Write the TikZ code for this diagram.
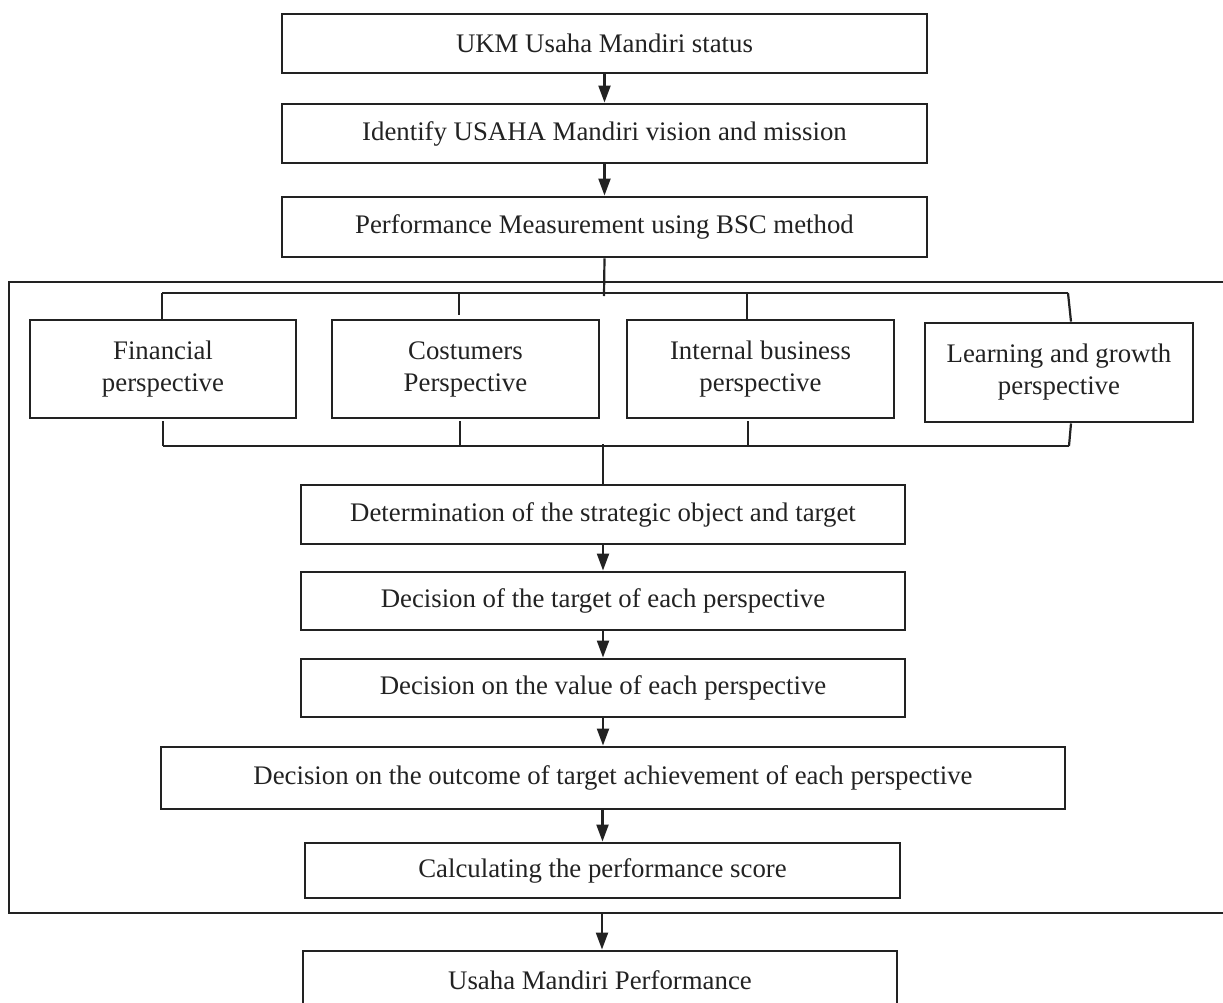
\documentclass[tikz,border=0pt]{standalone}
\usepackage{fontspec}
\setmainfont{Liberation Serif}
\usetikzlibrary{arrows.meta}
\definecolor{ink}{HTML}{222222}
\begin{document}
\begin{tikzpicture}[x=0.5pt,y=-0.5pt,
  box/.style={draw=ink,line width=1.45pt,inner sep=0pt,align=center,text=ink,
    font=\fontsize{13.4}{16}\selectfont},
  lnk/.style={draw=ink,line width=1.1pt},
  arr/.style={draw=ink,line width=1.1pt,-{Triangle[length=8.5pt,width=6pt]}},
  frame/.style={draw=ink,line width=1.1pt}]
\useasboundingbox (0,0) rectangle (1223,1003);
% outer frame (right side lies beyond the picture edge)
\draw[frame] (1240,282) -- (9,282) -- (9,913) -- (1240,913);
% top chain
\node[box,minimum width=322.5pt,minimum height=29.5pt] (b1) at (604.5,43.5) {UKM Usaha Mandiri status};
\node[box,minimum width=322.5pt,minimum height=29.5pt] (b2) at (604.5,133.5) {Identify USAHA Mandiri vision and mission};
\node[box,minimum width=322.5pt,minimum height=30pt] (b3) at (604.5,227) {Performance Measurement using BSC method};
\draw[arr] (b1.south) -- (b2.north);
\draw[arr] (b2.south) -- (b3.north);
% perspectives
\node[box,minimum width=133pt,minimum height=49pt] (p1) at (163,369) {Financial\\perspective};
\node[box,minimum width=133.5pt,minimum height=49pt] (p2) at (465.5,369) {Costumers\\Perspective};
\node[box,minimum width=133.5pt,minimum height=49pt] (p3) at (760.5,369) {Internal business\\perspective};
\node[box,minimum width=134pt,minimum height=49.5pt] (p4) at (1059,372.5) {Learning and growth\\perspective};
% top bracket
\coordinate (tc) at (604,296);
\coordinate (t1) at (162,293);
\coordinate (t2) at (459,293);
\coordinate (t3) at (747,293);
\coordinate (t4) at (1068,293);
\draw[lnk] (b3.south) -- (tc);
\draw[lnk] (t1) -- (t4);
\draw[lnk] (t1) -- (t1 |- p1.north);
\draw[lnk] (t2) -- ([yshift=2pt]t2 |- p2.north);
\draw[lnk] (t3) -- (t3 |- p3.north);
\draw[lnk] (t4) -- ([xshift=1.5pt]t4 |- p4.north);
% bottom bracket
\coordinate (u1) at (163,446);
\coordinate (u2) at (460,446);
\coordinate (u3) at (748,446);
\coordinate (u4) at (1069,446);
\coordinate (uc) at (603,444);
\draw[lnk] (u1) -- (u4);
\draw[lnk] (u1) -- ([yshift=-1pt]u1 |- p1.south);
\draw[lnk] (u2) -- ([yshift=-1pt]u2 |- p2.south);
\draw[lnk] (u3) -- ([yshift=-1pt]u3 |- p3.south);
\draw[lnk] (u4) -- ([xshift=1pt]u4 |- p4.south);
% lower chain
\node[box,minimum width=302pt,minimum height=29.5pt] (d1) at (603,514.5) {Determination of the strategic object and target};
\node[box,minimum width=302pt,minimum height=29pt] (d2) at (603,601) {Decision of the target of each perspective};
\node[box,minimum width=302pt,minimum height=29pt] (d3) at (603,688) {Decision on the value of each perspective};
\node[box,minimum width=452pt,minimum height=31pt] (d4) at (613,778) {Decision on the outcome of target achievement of each perspective};
\node[box,minimum width=297.5pt,minimum height=27.5pt] (d5) at (602.5,870.5) {Calculating the performance score};
\node[box,minimum width=297pt,minimum height=29.5pt] (d6) at (600,980.5) {Usaha Mandiri Performance};
\draw[lnk] (uc) -- (uc |- d1.north);
\draw[arr] (d1.south) -- (d1.south |- d2.north);
\draw[arr] (d2.south) -- (d2.south |- d3.north);
\draw[arr] (d3.south) -- (d3.south |- d4.north);
\draw[arr] (d5.north |- d4.south) -- (d5.north);
\coordinate (fb) at (602,913);
\draw[arr] (fb) -- (fb |- d6.north);
\end{tikzpicture}
\end{document}
